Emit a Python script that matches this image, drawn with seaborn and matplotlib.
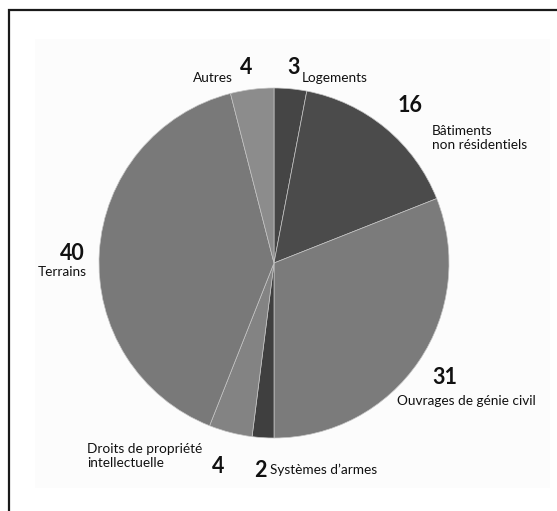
import matplotlib
matplotlib.use("Agg")
import matplotlib.pyplot as plt
from matplotlib.patches import Rectangle
import seaborn as sns

# Breakdown of fixed assets (%), clockwise from the top
categories = ["Logements", "Bâtiments\nnon résidentiels", "Ouvrages de génie civil",
              "Systèmes d’armes", "Droits de propriété\nintellectuelle", "Terrains", "Autres"]
values = [3, 16, 31, 2, 4, 40, 4]
slice_colors = ["#454545", "#4b4b4b", "#7b7b7b", "#3f3f3f", "#838383", "#797979", "#8c8c8c"]

sns.set_theme(style="white")
plt.rcParams["font.family"] = ["Lato", "DejaVu Sans"]

W, H = 557, 511
fig = plt.figure(figsize=(W / 100, H / 100), dpi=100)
ax = fig.add_axes([0, 0, 1, 1])
ax.set_xlim(0, W)
ax.set_ylim(0, H)
ax.set_aspect("equal")
ax.axis("off")

# faint panel behind the chart and the frame line (top and left edges)
ax.add_patch(Rectangle((35, H - 488), 515, 449, facecolor="#fcfcfc", edgecolor="none", zorder=0))
ax.add_patch(Rectangle((9, -40), 700, H - 10 + 40, fill=False, edgecolor="#1a1a1a",
                       linewidth=1.6, clip_on=False, zorder=5))

cx, cy, r = 274, H - 263, 175
ax.pie(values, colors=slice_colors, startangle=90, counterclock=False,
       center=(cx, cy), radius=r, frame=True,
       wedgeprops=dict(edgecolor="#c4c4c4", linewidth=0.5))
ax.set_xlim(0, W)
ax.set_ylim(0, H)
ax.axis("off")

# label layout: (number x, number y, number ha, name x, name y, name ha), pixel coords from top
layout = [
    (294, 67, "center", 302, 78, "left"),
    (410, 105, "center", 432, 138, "left"),
    (445, 377, "center", 397, 401, "left"),
    (260, 470, "center", 270, 470, "left"),
    (218, 466, "center", 87, 456, "left"),
    (72, 253, "center", 87, 272, "right"),
    (246, 67, "center", 233, 78, "right"),
]

for cat, val, (nx, ny, nha, tx, ty, tha) in zip(categories, values, layout):
    ax.text(nx, H - ny, str(val), ha=nha, va="center", fontsize=15.5,
            fontweight="bold", color="#111111")
    ax.text(tx, H - ty, cat, ha=tha, va="center", fontsize=9.8,
            color="#111111", linespacing=1.2)

fig.savefig("out.png", dpi=100, facecolor="white")
